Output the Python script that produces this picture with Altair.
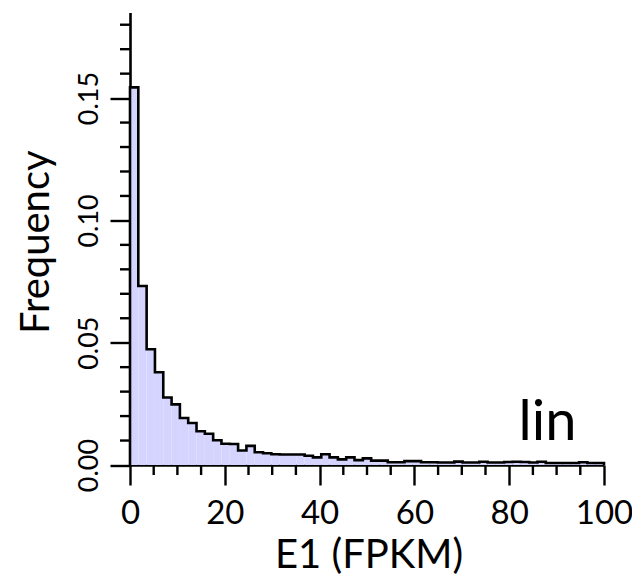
import altair as alt
import pandas as pd

# Histogram of E1 (FPKM), 57 equal bins spanning 0-100
n_bins = 57
x_max = 100
freq = [
    0.1544, 0.0732, 0.0473, 0.0379, 0.0276, 0.0248, 0.0192, 0.0172, 0.0138, 0.0128,
    0.0101, 0.0087, 0.0086, 0.0059, 0.0078, 0.0052, 0.0048, 0.0044, 0.0043, 0.0043,
    0.0043, 0.0038, 0.0031, 0.0044, 0.0031, 0.0023, 0.0031, 0.0020, 0.0027, 0.0018,
    0.0018, 0.0011, 0.0011, 0.0016, 0.0016, 0.0011, 0.0011, 0.0010, 0.0010, 0.0014,
    0.0010, 0.0010, 0.0013, 0.0010, 0.0010, 0.0012, 0.0013, 0.0012, 0.0010, 0.0013,
    0.0008, 0.0008, 0.0008, 0.0008, 0.0011, 0.0008, 0.0008,
]
x_major = [0, 20, 40, 60, 80, 100]
x_minor = [5, 10, 15, 25, 30, 35, 45, 50, 55, 65, 70, 75, 85, 90, 95]
y_major = [0.00, 0.05, 0.10, 0.15]
y_minor = [0.01, 0.02, 0.03, 0.04, 0.06, 0.07, 0.08, 0.09,
           0.11, 0.12, 0.13, 0.14, 0.16, 0.17, 0.18]
x_title = "E1 (FPKM)"
y_title = "Frequency"
panel_label = "lin"

bw = x_max / n_bins
edges = [i * bw for i in range(n_bins)] + [x_max]

area_df = pd.DataFrame({"x": edges, "y": freq + [freq[-1]], "idx": list(range(n_bins + 1))})
line_df = pd.DataFrame({
    "x": [0.0] + edges + [float(x_max)],
    "y": [0.0] + freq + [freq[-1], 0.0],
    "idx": list(range(n_bins + 3)),
})
label_df = pd.DataFrame({"t": [panel_label]})
xminor_df = pd.DataFrame({"x": x_minor})
yminor_df = pd.DataFrame({"y": y_minor})

FONT = "Lato"
W, H = 474, 452.5

x_scale = alt.Scale(domain=[0, 100], nice=False, zero=False)
y_scale = alt.Scale(domain=[0, 0.185], nice=False)

x_axis = alt.Axis(
    values=x_major,
    title=x_title,
    format="d",
    tickSize=20, tickWidth=2.4, tickColor="black", domainColor="black", domainWidth=2.6,
    labelFont=FONT, labelFontSize=33, labelColor="black", labelPadding=12,
    labelFlush=False, labelOverlap=False, grid=False,
    titleFont=FONT, titleFontSize=40, titleFontWeight="normal", titleColor="black",
    titleX=238.5, titleY=102, titleBaseline="alphabetic", titleAlign="center",
)
y_axis = alt.Axis(
    values=y_major,
    title=y_title,
    format=".2f",
    tickSize=20, tickWidth=2.4, tickColor="black", domainColor="black", domainWidth=2.6,
    labelFont=FONT, labelFontSize=27, labelColor="black", labelPadding=7,
    labelAngle=270, labelAlign="center", labelBaseline="bottom",
    labelFlush=False, labelOverlap=False, grid=False,
    titleFont=FONT, titleFontSize=40, titleFontWeight="normal", titleColor="black",
    titleX=-82, titleY=229.2, titleAngle=270, titleBaseline="alphabetic", titleAlign="center",
)

fill = alt.Chart(area_df).mark_area(
    interpolate="step-after", color="#D4D4FF", opacity=1
).encode(
    x=alt.X("x:Q", scale=x_scale, axis=x_axis),
    y=alt.Y("y:Q", scale=y_scale, axis=y_axis),
    order=alt.Order("idx:Q"),
)

outline = alt.Chart(line_df).mark_line(
    interpolate="step-after", color="black", strokeWidth=2.6
).encode(
    x=alt.X("x:Q", scale=x_scale),
    y=alt.Y("y:Q", scale=y_scale),
    order=alt.Order("idx:Q"),
)

x_minor_ticks = alt.Chart(xminor_df).mark_rule(color="black", strokeWidth=2.4, clip=False).encode(
    x=alt.X("x:Q", scale=x_scale),
    y=alt.value(H),
    y2=alt.value(H + 10),
)

y_minor_ticks = alt.Chart(yminor_df).mark_rule(color="black", strokeWidth=2.4, clip=False).encode(
    y=alt.Y("y:Q", scale=y_scale),
    x=alt.value(-10),
    x2=alt.value(0),
)

label = alt.Chart(label_df).mark_text(
    font=FONT, fontSize=56, color="black", align="center", baseline="alphabetic"
).encode(
    x=alt.value(417.5),
    y=alt.value(427.5),
    text="t:N",
)

chart = alt.layer(fill, outline, x_minor_ticks, y_minor_ticks, label).properties(
    width=W,
    height=H,
    padding={"left": 122, "top": 4.5, "right": 28, "bottom": 110},
    autosize=alt.AutoSizeParams(type="none"),
).configure_view(stroke=None)

chart.save("out.html", embed_options={"renderer": "svg", "actions": False})
